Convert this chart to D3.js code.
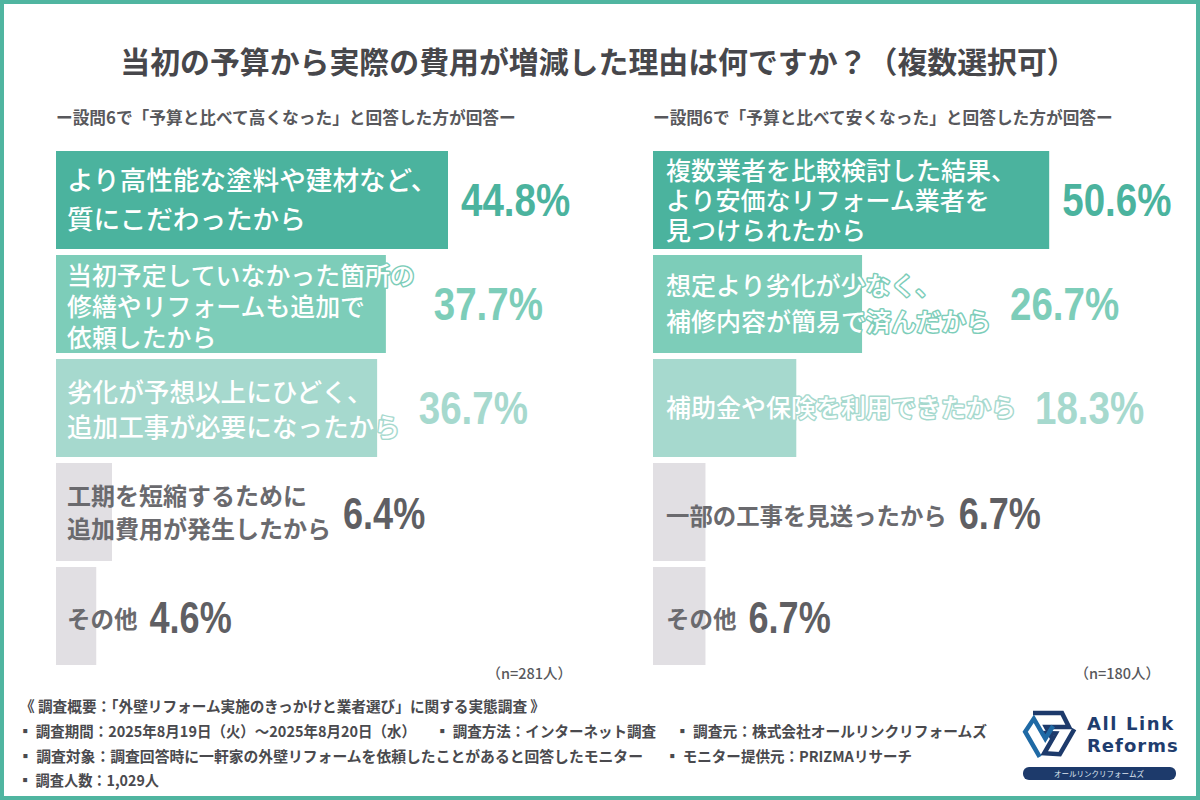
<!DOCTYPE html>
<html lang="ja">
<head>
<meta charset="utf-8">
<script src="https://cdn.jsdelivr.net/npm/d3@7"></script>
<style>
    html, body { margin: 0; padding: 0; background: #fff; }
    svg { display: block; font-family: "Noto Sans CJK JP", sans-serif; }
</style>
</head>
<body>
<script>
let titleText = "当初の予算から実際の費用が増減した理由は何ですか？（複数選択可）";

let leftHeading = "ー設問6で「予算と比べて高くなった」と回答した方が回答ー";
let leftLabels = [
    ["より高性能な塗料や建材など、", "質にこだわったから"],
    ["当初予定していなかった箇所の", "修繕やリフォームも追加で", "依頼したから"],
    ["劣化が予想以上にひどく、", "追加工事が必要になったから"],
    ["工期を短縮するために", "追加費用が発生したから"],
    ["その他"]
];
let leftValues = [44.8, 37.7, 36.7, 6.4, 4.6];
let leftCount = "（n=281人）";

let rightHeading = "ー設問6で「予算と比べて安くなった」と回答した方が回答ー";
let rightLabels = [
    ["複数業者を比較検討した結果、", "より安価なリフォーム業者を", "見つけられたから"],
    ["想定より劣化が少なく、", "補修内容が簡易で済んだから"],
    ["補助金や保険を利用できたから"],
    ["一部の工事を見送ったから"],
    ["その他"]
];
let rightValues = [50.6, 26.7, 18.3, 6.7, 6.7];
let rightCount = "（n=180人）";

let footerRows = [
    [{ t: "《 調査概要：「外壁リフォーム実施のきっかけと業者選び」に関する実態調査 》", x: 20, w: 525 }],
    [{ t: "▪ 調査期間：2025年8月19日（火）～2025年8月20日（水）", x: 18, w: 398 },
     { t: "▪ 調査方法：インターネット調査", x: 435, w: 221 },
     { t: "▪ 調査元：株式会社オールリンクリフォームズ", x: 675, w: 312 }],
    [{ t: "▪ 調査対象：調査回答時に一軒家の外壁リフォームを依頼したことがあると回答したモニター", x: 18, w: 625 },
     { t: "▪ モニター提供元：PRIZMAリサーチ", x: 665, w: 247 }],
    [{ t: "▪ 調査人数：1,029人", x: 18, w: 141 }]
];
let footerY = [707, 732, 757, 781];

let barColors = ["#4bb39e", "#7dcdb9", "#a6d9ce", "#e1dfe3", "#e1dfe3"];
let valueColors = ["#4bb39e", "#7dcdb9", "#a6d9ce", "#5f5f63", "#5f5f63"];
let textGray = "#58585c";

let svg = d3.select("body").append("svg")
    .attr("width", 1200)
    .attr("height", 800);

// frame
svg.append("rect")
    .attr("x", 2).attr("y", 2)
    .attr("width", 1196).attr("height", 796)
    .attr("fill", "#fff")
    .attr("stroke", "#50b5a0")
    .attr("stroke-width", 4);

svg.append("text")
    .attr("x", 598.5).attr("y", 73)
    .attr("text-anchor", "middle")
    .attr("font-size", 29.9)
    .attr("font-weight", 700)
    .attr("fill", "#47474b")
    .text(titleText);

function drawPanel(x0, pxWidth, heading, labels, values, count, countX, labelPad, lineGaps, sizes, nudges) {
    let xScale = d3.scaleLinear().domain([0, 100]).range([x0, x0 + pxWidth]);
    let yScale = d3.scaleBand()
        .domain(d3.range(values.length))
        .range([151, 665])
        .paddingInner(6 / 104);

    svg.append("text")
        .attr("x", x0).attr("y", 124)
        .attr("font-size", 16.7)
        .attr("font-weight", 700)
        .attr("fill", textGray)
        .text(heading);

    values.forEach((v, i) => {
        let g = svg.append("g");
        g.append("rect")
            .attr("x", xScale(0))
            .attr("y", yScale(i))
            .attr("width", xScale(v) - xScale(0))
            .attr("height", yScale.bandwidth())
            .attr("fill", barColors[i]);

        let lines = labels[i];
        let gap = lineGaps[i];
        let cy = yScale(i) + yScale.bandwidth() / 2;
        let maxEnd = 0;
        let isGray = i > 2;
        lines.forEach((line, j) => {
            let t = g.append("text")
                .attr("x", x0 + labelPad)
                .attr("y", cy + nudges[i] + (j - (lines.length - 1) / 2) * gap)
                .attr("dy", "0.36em")
                .attr("font-size", sizes[i])
                .attr("font-weight", isGray ? 700 : 500)
                .attr("fill", isGray ? "#6a6a6e" : "#fff")
                .text(line);
            if (!isGray) {
                t.attr("stroke", barColors[i])
                    .attr("stroke-width", 3)
                    .attr("paint-order", "stroke")
                    .attr("stroke-linejoin", "round");
            }
            maxEnd = Math.max(maxEnd, x0 + labelPad + t.node().getComputedTextLength());
        });

        // no narrow face is installed, so squeeze the value text horizontally
        let valueX = Math.max(xScale(v) + 13, maxEnd + (isGray ? 12 : 19));
        g.append("text")
            .attr("transform", "translate(" + valueX + "," + cy + ") scale(0.82,1)")
            .attr("dy", isGray ? "0.39em" : "0.35em")
            .attr("font-family", "'Liberation Sans', sans-serif")
            .attr("font-size", isGray ? 44 : 47)
            .attr("font-weight", 700)
            .attr("fill", valueColors[i])
            .text(v.toFixed(1) + "%");
    });

    svg.append("text")
        .attr("x", countX).attr("y", 679)
        .attr("text-anchor", "end")
        .attr("font-size", 14.5)
        .attr("font-weight", 500)
        .attr("fill", textGray)
        .text(count);
}

drawPanel(56, 875, leftHeading, leftLabels, leftValues, leftCount, 572, 11,
    [39, 31, 35, 33, 0], [26.6, 24.9, 25.6, 24, 23.5], [0, 3, 2, 1, 4]);
drawPanel(653, 783, rightHeading, rightLabels, rightValues, rightCount, 1160, 13,
    [30, 36, 0, 0, 0], [25, 25, 25, 23.4, 23.5], [1, 0, 0, 5, 4]);

// footer
footerRows.forEach((row, r) => {
    row.forEach(seg => {
        svg.append("text")
            .attr("x", seg.x).attr("y", footerY[r] + 5)
            .attr("font-size", 15)
            .attr("font-weight", 700)
            .attr("fill", "#4a4a4e")
            .attr("textLength", seg.w)
            .attr("lengthAdjust", "spacingAndGlyphs")
            .text(seg.t);
    });
});

// logo: one strand drawn three times round the centre
let strandColors = ["#1d3a6b", "#1d3a6b", "#1f6aa5"];
let logo = svg.append("g").attr("fill", "none");
strandColors.forEach((c, i) => {
    logo.append("path")
        .attr("d", "M1033 713 L1062 713 L1069 727 L1046 727 L1053 740")
        .attr("transform", "rotate(" + (i * 120) + ",1049,733)")
        .attr("stroke", c)
        .attr("stroke-width", 4.5);
});
logo.append("text")
    .attr("x", 1087).attr("y", 730)
    .attr("font-family", "'DejaVu Sans', sans-serif")
    .attr("font-size", 18).attr("font-weight", 700)
    .attr("letter-spacing", 1.6).attr("fill", "#1f3d6e")
    .text("All Link");
logo.append("text")
    .attr("x", 1087).attr("y", 752)
    .attr("font-family", "'DejaVu Sans', sans-serif")
    .attr("font-size", 18).attr("font-weight", 700)
    .attr("letter-spacing", 1).attr("fill", "#1f3d6e")
    .text("Reforms");
logo.append("rect")
    .attr("x", 1023).attr("y", 767).attr("width", 153).attr("height", 13)
    .attr("rx", 6).attr("fill", "#1d3a6b");
svg.append("text")
    .attr("x", 1099).attr("y", 776.5)
    .attr("text-anchor", "middle")
    .attr("font-size", 7.5).attr("fill", "#dfe6f0")
    .text("オールリンクリフォームズ");
</script>
</body>
</html>
